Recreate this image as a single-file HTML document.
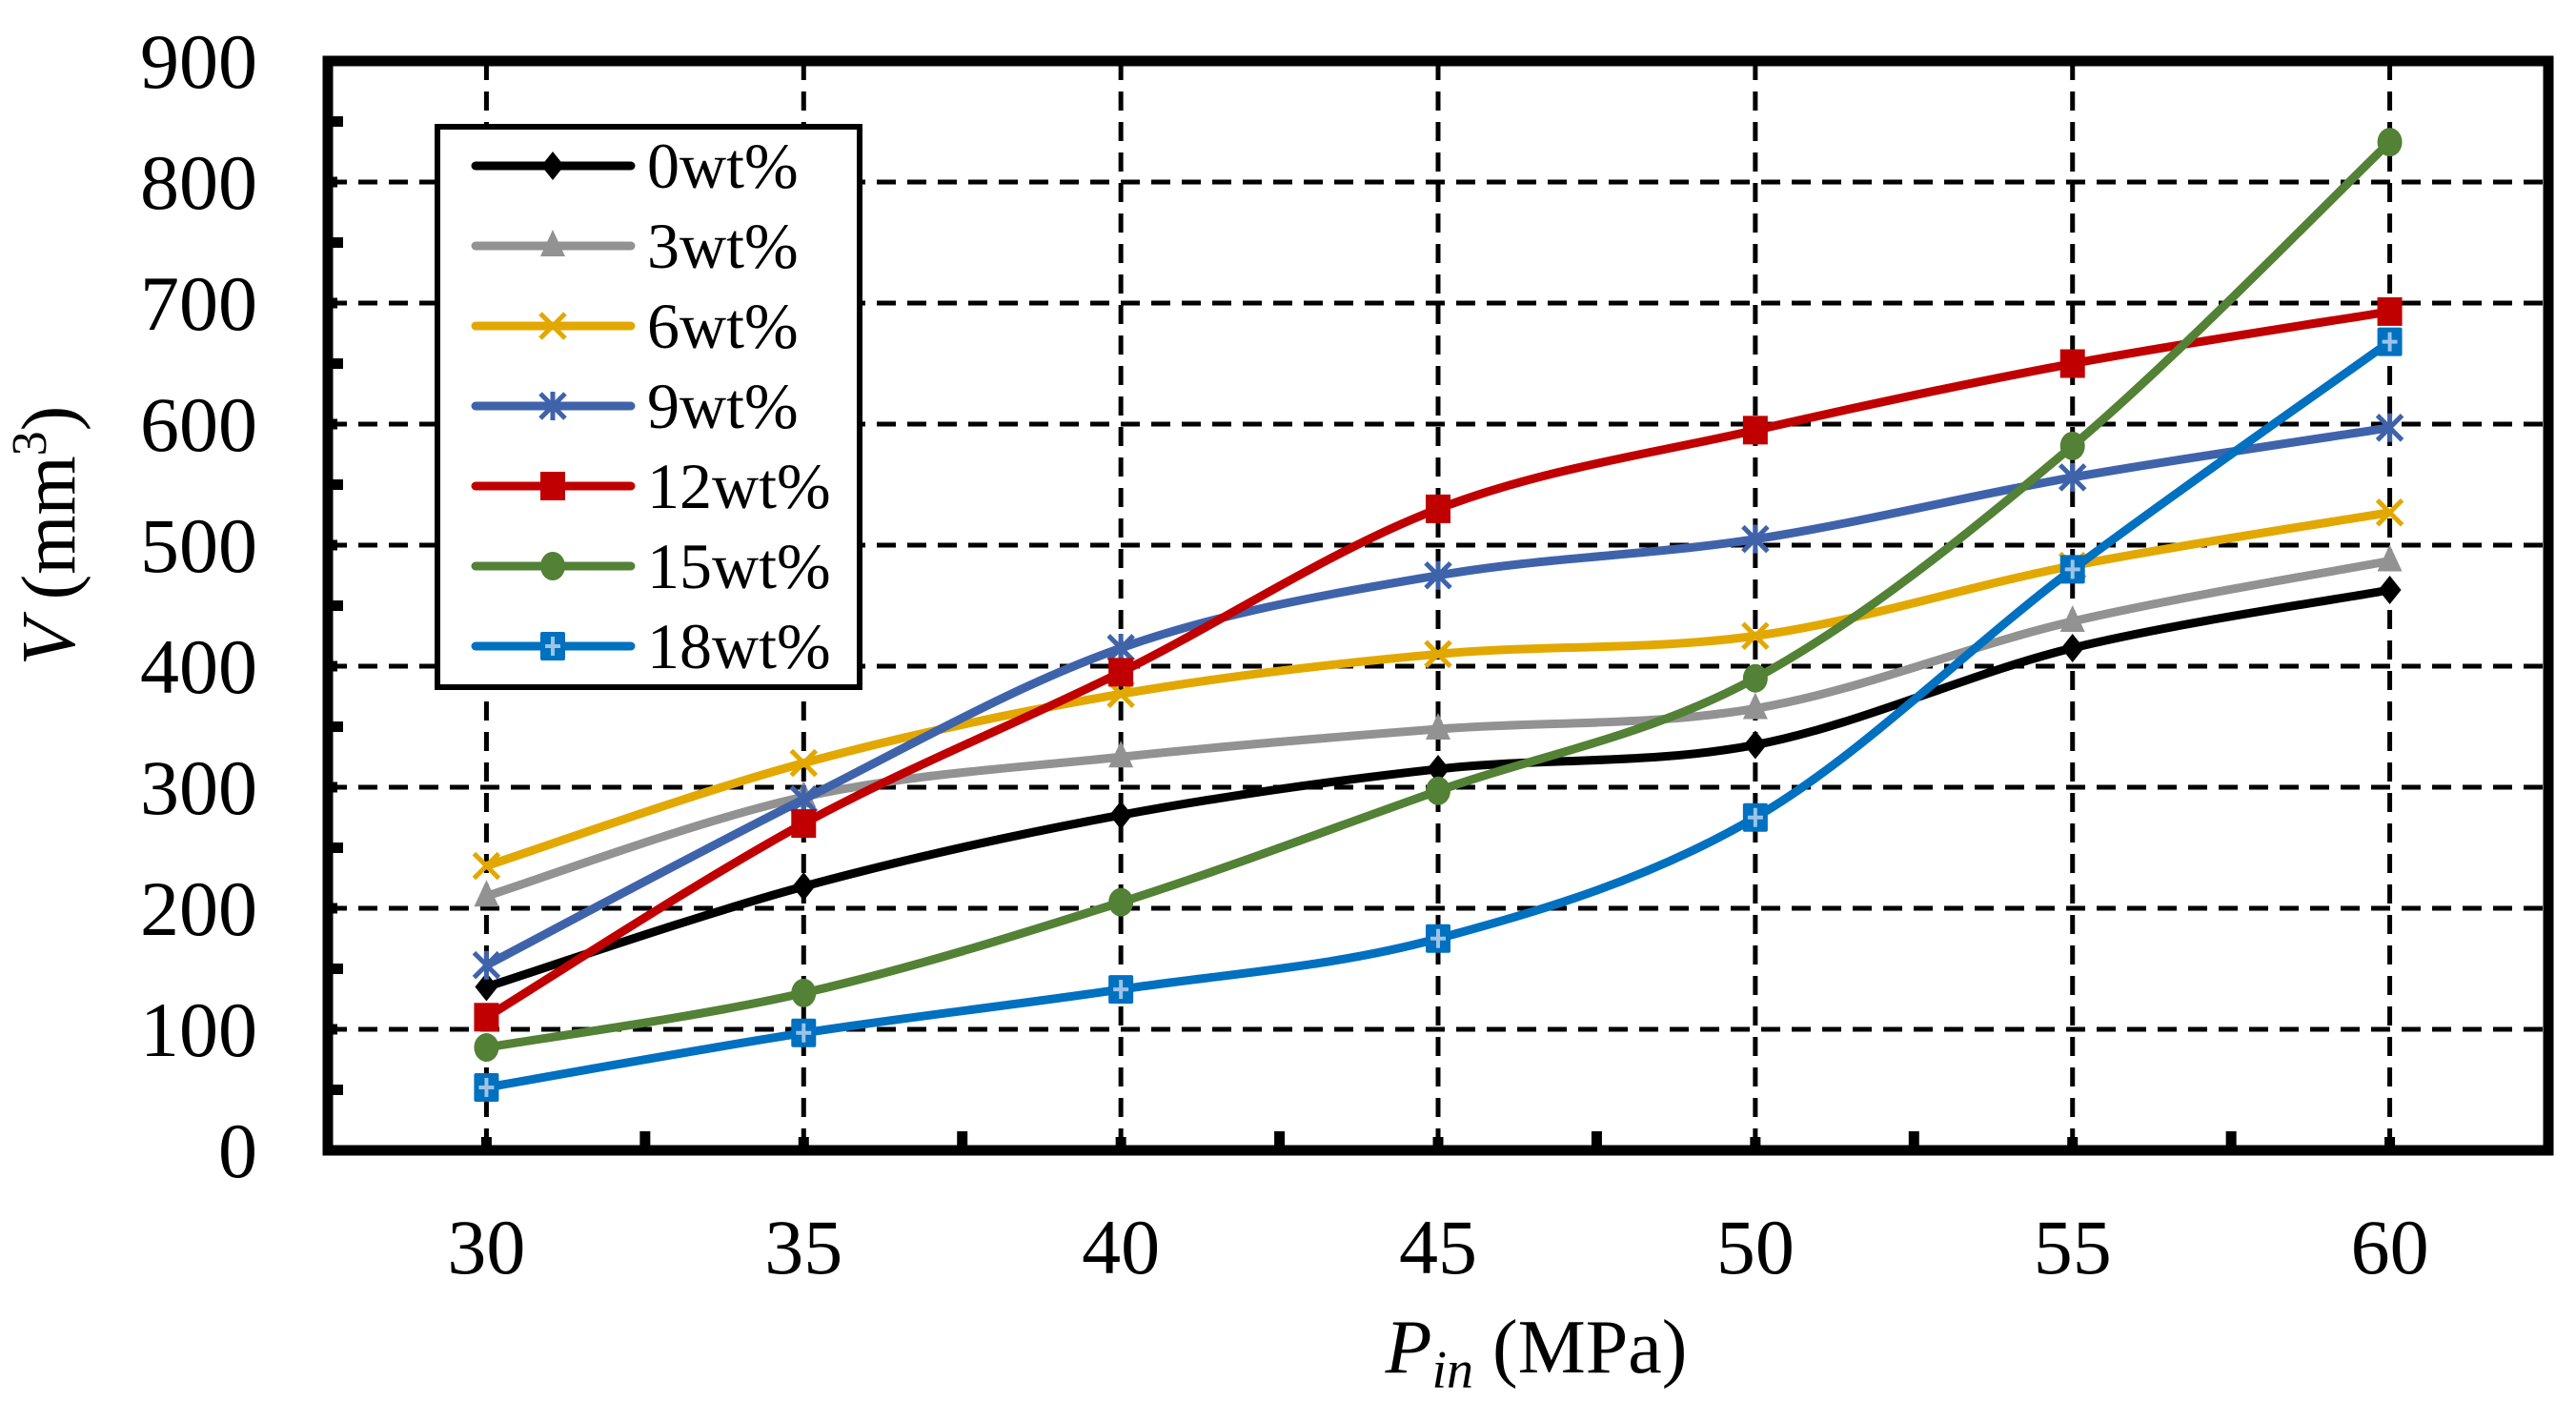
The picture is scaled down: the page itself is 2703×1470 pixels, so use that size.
<!DOCTYPE html>
<html><head><meta charset="utf-8"><style>
html,body{margin:0;padding:0;background:#fff;}
svg, svg text{font-family:"Liberation Serif","Times New Roman",Times,serif;}
svg{display:block;}
</style></head><body>
<svg id="chart" width="2703" height="1470" viewBox="0 0 2703 1470" xmlns="http://www.w3.org/2000/svg" font-family="Liberation Serif, Times New Roman, serif">
<rect width="2703" height="1470" fill="#fff"/>
<g id="grid"></g>
<g id="series"></g>
<g id="axes"></g>
<g id="legend"></g>
<text transform="translate(78,562) rotate(-90)" text-anchor="middle" font-size="80" font-family="Liberation Serif, serif"><tspan font-style="italic">V</tspan> (mm<tspan font-size="52" dy="-30">3</tspan><tspan dy="30">)</tspan></text>
<text x="1612" y="1440" text-anchor="middle" font-size="80" font-family="Liberation Serif, serif"><tspan font-style="italic">P</tspan><tspan font-style="italic" font-size="56" dy="16">in</tspan><tspan dy="-16"> (MPa)</tspan></text>
</svg>
<script>
const categories = [30, 35, 40, 45, 50, 55, 60];
const seriesNames = ["0wt%", "3wt%", "6wt%", "9wt%", "12wt%", "15wt%", "18wt%"];
const s0 = [135, 218, 277, 315, 335, 415, 463];
const s3 = [210, 292, 325, 348, 365, 437, 487];
const s6 = [235, 320, 377, 410, 425, 483, 527];
const s9 = [153, 290, 415, 475, 505, 556, 597];
const s12 = [110, 270, 395, 530, 595, 650, 693];
const s15 = [85, 130, 205, 297, 390, 582, 833];
const s18 = [52, 97, 133, 175, 275, 480, 668];
const yTicks = [0, 100, 200, 300, 400, 500, 600, 700, 800, 900];
const xTicks = [30, 35, 40, 45, 50, 55, 60];

const allSeries = [s0, s3, s6, s9, s12, s15, s18];
const colors = ["#000000", "#929292", "#e2a800", "#3f63ab", "#c00000", "#538135", "#0070c0"];
const markers = ["diamond", "triangle", "x", "star", "square", "circle", "plus"];
const NS = "http://www.w3.org/2000/svg";
const FONT = "Liberation Serif, Times New Roman, serif";
const L = 344, R = 2674, T = 64, B = 1207;
const xMin = 27.5, xMax = 62.5, yMin = 0, yMax = 900;
function xs(v){ return L + (v - xMin) / (xMax - xMin) * (R - L); }
function ys(v){ return B - (v - yMin) / (yMax - yMin) * (B - T); }
function mk(tag, attrs, parent){ const e = document.createElementNS(NS, tag); for (const k in attrs) e.setAttribute(k, attrs[k]); parent.appendChild(e); return e; }

const grid = document.getElementById("grid");
yTicks.forEach(v => { if (v > 0 && v < 900) {
  const ln = mk("line", {x1: L, x2: R, y1: ys(v), y2: ys(v), stroke: "#000", "stroke-width": 5, "stroke-dasharray": "20 12"}, grid);
  
  
}});
xTicks.forEach(v => {
  const ln = mk("line", {x1: xs(v), x2: xs(v), y1: T, y2: B, stroke: "#000", "stroke-width": 5, "stroke-dasharray": "20 12"}, grid);
  
  
});

function smoothPath(pts){
  let d = "M" + pts[0][0] + "," + pts[0][1];
  for (let i = 0; i < pts.length - 1; i++) {
    const p0 = pts[i - 1] || pts[i], p1 = pts[i], p2 = pts[i + 1], p3 = pts[i + 2] || pts[i + 1];
    const c1x = p1[0] + (p2[0] - p0[0]) / 6, c1y = p1[1] + (p2[1] - p0[1]) / 6;
    const c2x = p2[0] - (p3[0] - p1[0]) / 6, c2y = p2[1] - (p3[1] - p1[1]) / 6;
    d += " C" + c1x + "," + c1y + " " + c2x + "," + c2y + " " + p2[0] + "," + p2[1];
  }
  return d;
}
function drawMarker(type, x, y, c, parent){
  const s = 13; let e;
  if (type === "diamond") e = mk("polygon", {points: `${x},${y-s-2} ${x+s-1},${y} ${x},${y+s+2} ${x-s+1},${y}`, fill: c}, parent);
  else if (type === "triangle") e = mk("polygon", {points: `${x},${y-s-4} ${x+s},${y+s-2} ${x-s},${y+s-2}`, fill: c}, parent);
  else if (type === "x") { e = mk("path", {d: `M${x-s},${y-s}L${x+s},${y+s}M${x+s},${y-s}L${x-s},${y+s}`, stroke: c, "stroke-width": 5, fill: "none"}, parent); }
  else if (type === "star") { e = mk("path", {d: `M${x-s},${y-s}L${x+s},${y+s}M${x+s},${y-s}L${x-s},${y+s}M${x},${y-s-2}L${x},${y+s+2}`, stroke: c, "stroke-width": 5, fill: "none"}, parent); }
  else if (type === "square") e = mk("rect", {x: x - s, y: y - s - 2, width: 2 * s, height: 2 * s + 4, fill: c}, parent);
  else if (type === "circle") e = mk("ellipse", {cx: x, cy: y, rx: s, ry: s + 2, fill: c}, parent);
  else { e = mk("g", {}, parent);
    mk("rect", {x: x - s, y: y - s - 2, width: 2 * s, height: 2 * s + 4, fill: c, rx: 2}, e);
    mk("path", {d: `M${x-8},${y}L${x+8},${y}M${x},${y-10}L${x},${y+10}`, stroke: "#9dc3e6", "stroke-width": 4}, e); }
  return e;
}
const sg = document.getElementById("series");
allSeries.forEach((vals, si) => {
  const g = mk("g", {}, sg);
  
  
  const pts = vals.map((v, i) => [xs(categories[i]), ys(v)]);
  const p = mk("path", {d: smoothPath(pts), stroke: colors[si], "stroke-width": 9, fill: "none", "stroke-linejoin": "round"}, g);
  
  
  pts.forEach(pt => {
    const m = drawMarker(markers[si], pt[0], pt[1], colors[si], g);
    
    
  });
});

const ax = document.getElementById("axes");
const frame = mk("rect", {x: L, y: T, width: R - L, height: B - T, fill: "none", stroke: "#000", "stroke-width": 11}, ax);


for (let v = 50; v < 900; v += 50) {
  const t = mk("line", {x1: L, x2: L + (v % 100 === 0 ? 10 : 16), y1: ys(v), y2: ys(v), stroke: "#000", "stroke-width": 11}, ax);
  
  
}
for (let v = 30; v <= 60; v += 2.5) {
  const t = mk("line", {x1: xs(v), x2: xs(v), y1: B, y2: B - (v % 5 === 0 ? 14 : 20), stroke: "#000", "stroke-width": 11}, ax);
  
  
}
yTicks.forEach(v => {
  const t = mk("text", {x: 270, y: ys(v) + 28, "text-anchor": "end", "font-size": 82, "font-family": FONT}, ax);
  t.textContent = v;
  
  
});
xTicks.forEach(v => {
  const t = mk("text", {x: xs(v), y: 1336, "text-anchor": "middle", "font-size": 82, "font-family": FONT}, ax);
  t.textContent = v;
  
  
});

const lg = document.getElementById("legend");
const box = mk("rect", {x: 459, y: 133, width: 443, height: 588, fill: "#fff", stroke: "#000", "stroke-width": 6}, lg);


seriesNames.forEach((n, i) => {
  const y = 174 + i * 84;
  const g = mk("g", {}, lg);
  
  
  mk("line", {x1: 499, x2: 662, y1: y, y2: y, stroke: colors[i], "stroke-width": 9, "stroke-linecap": "round"}, g);
  drawMarker(markers[i], 580, y, colors[i], g);
  const t = mk("text", {x: 679, y: y + 23, "font-size": 68, "font-family": FONT}, g);
  t.textContent = n;
});
</script>
</body></html>
